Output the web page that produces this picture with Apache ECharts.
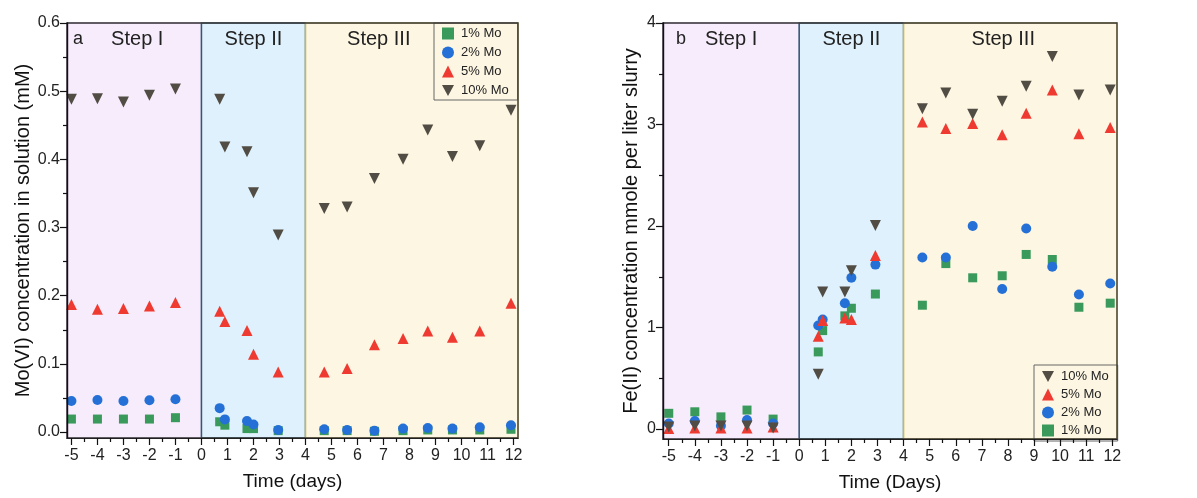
<!DOCTYPE html>
<html>
<head>
<meta charset="utf-8">
<script src="https://cdn.jsdelivr.net/npm/echarts@6/dist/echarts.min.js"></script>
<style>
html,body{margin:0;padding:0;background:#fff;}
#c{width:1197px;height:498px;}
</style>
</head>
<body>
<div id="c"></div>
<script>
// ---- Data ----
var seriesNames = ['1% Mo', '2% Mo', '5% Mo', '10% Mo'];
var stepNames = ['Step I', 'Step II', 'Step III'];
var stepBounds = [0, 4];
var xTicks = [-5,-4,-3,-2,-1,0,1,2,3,4,5,6,7,8,9,10,11,12];
var yTicksA = [0, 0.1, 0.2, 0.3, 0.4, 0.5, 0.6];
var yTicksB = [0, 1, 2, 3, 4];

// Panel a: Mo(VI) concentration (mM)
var timeA = [-5,-4,-3,-2,-1, 0.7,0.9,1.75,2.0,2.95, 4.72,5.6,6.65,7.75,8.7,9.65,10.7,11.9];
var moA1  = [0.019,0.019,0.019,0.019,0.021, 0.015,0.010,0.005,0.005,0.002, 0.002,0.002,0.001,0.002,0.003,0.003,0.003,0.004];
var moA2  = [0.0455,0.047,0.0455,0.0465,0.048, 0.035,0.0185,0.016,0.011,0.003, 0.004,0.003,0.002,0.005,0.006,0.005,0.007,0.010];
var moA5  = [0.187,0.180,0.181,0.185,0.190, 0.177,0.162,0.149,0.114,0.088, 0.088,0.093,0.128,0.137,0.148,0.139,0.148,0.189];
var moA10 = [0.488,0.489,0.484,0.494,0.503, 0.488,0.418,0.411,0.351,0.289, 0.328,0.330,0.372,0.400,0.443,0.404,0.420,0.472];

// Panel b: Fe(II) concentration (mmole per liter slurry)
var timeB = [-5,-4,-3,-2,-1, 0.73,0.9,1.75,2.0,2.92, 4.72,5.62,6.65,7.78,8.7,9.7,10.72,11.92];
var feB1  = [0.155,0.17,0.12,0.187,0.098, 0.76,0.97,1.115,1.19,1.33, 1.22,1.63,1.49,1.51,1.72,1.67,1.20,1.24];
var feB2  = [0.055,0.079,0.033,0.089,0.055, 1.02,1.08,1.24,1.49,1.62, 1.69,1.69,2.0,1.38,1.975,1.60,1.326,1.434];
var feB5  = [0.005,0.01,0.01,0.01,0.02, 0.915,1.07,1.095,1.08,1.71, 3.025,2.96,3.01,2.90,3.11,3.34,2.91,2.97];
var feB10 = [0.02,0.03,0.03,0.03,0.01, 0.54,1.35,1.35,1.56,2.005, 3.156,3.31,3.10,3.23,3.376,3.67,3.29,3.34];

// ---- Styles ----
var FONT = 'Liberation Sans, Arial, sans-serif';
var colors = ['#3a9a5c', '#2470d6', '#ef3a31', '#524d44'];
var symbols = ['rect', 'circle', 'triangle', 'triangle'];
var rotates = [0, 0, 0, 180];
var sizes = [9, 10, 11, 11];
var legendIcons = ['rect', 'circle', 'triangle', 'path://M0,0L10,0L5,9Z'];
var stepFill = ['#f6ecfb', '#dff1fc', '#fdf6e2'];
var stepBorder = ['#c9acdc', '#2f5b74', '#c6b75a'];

function zip(xs, ys) { return xs.map(function (x, i) { return [x, ys[i]]; }); }
function halfTicks() { var r = []; for (var v = -4.5; v < 12; v += 1) r.push(v); return r; }

function makeAxesX(gridIndex, min, max, name) {
  return [{
    type: 'value', gridIndex: gridIndex, min: min, max: max, position: 'bottom', z: 10,
    name: name, nameLocation: 'middle', nameGap: 34,
    nameTextStyle: { fontFamily: FONT, fontSize: 19, color: '#111' },
    axisLine: { show: true, onZero: false, lineStyle: { color: '#222', width: 1.2 } },
    axisTick: { show: true, customValues: xTicks, length: 7, lineStyle: { color: '#111', width: 1.2 } },
    axisLabel: { show: true, customValues: xTicks, fontFamily: FONT, fontSize: 16, color: '#222', margin: 10 },
    splitLine: { show: false }
  }, {
    type: 'value', gridIndex: gridIndex, min: min, max: max, position: 'bottom', z: 10,
    axisLine: { show: false, onZero: false },
    axisTick: { show: true, customValues: halfTicks(), length: 4, lineStyle: { color: '#111', width: 1.2 } },
    axisLabel: { show: false },
    splitLine: { show: false }
  }];
}

function makeAxesY(gridIndex, min, max, ticks, minor, name, gap, decimals) {
  return [{
    type: 'value', gridIndex: gridIndex, min: min, max: max, position: 'left', z: 10,
    name: name, nameLocation: 'middle', nameGap: gap,
    nameTextStyle: { fontFamily: FONT, fontSize: 20, color: '#111' },
    axisLine: { show: true, onZero: false, lineStyle: { color: '#111', width: 1.4 } },
    axisTick: { show: true, customValues: ticks, length: 7, lineStyle: { color: '#111', width: 1.2 } },
    axisLabel: { show: true, customValues: ticks, fontFamily: FONT, fontSize: 16, color: '#222', margin: 7,
      formatter: function (v) { return v.toFixed(decimals); } },
    splitLine: { show: false }
  }, {
    type: 'value', gridIndex: gridIndex, min: min, max: max, position: 'left', z: 10,
    axisLine: { show: false, onZero: false },
    axisTick: { show: true, customValues: minor, length: 4, lineStyle: { color: '#111', width: 1.2 } },
    axisLabel: { show: false },
    splitLine: { show: false }
  }];
}

function stepAreas(xmin, xmax, ymin, ymax, offsets) {
  var edges = [xmin, stepBounds[0], stepBounds[1], xmax];
  return stepNames.map(function (nm, i) {
    return [{
      name: nm, xAxis: edges[i], yAxis: ymin,
      itemStyle: { color: stepFill[i], borderColor: stepBorder[i], borderWidth: 1.5 },
      label: { show: true, position: 'insideTop', distance: 7, offset: [offsets[i], 0],
        fontFamily: FONT, fontSize: 20, color: '#222' }
    }, { xAxis: edges[i + 1], yAxis: ymax }];
  });
}

function makeSeries(xIdx, yIdx, xs, ysList, areas) {
  return seriesNames.map(function (nm, i) {
    var s = {
      name: nm, type: 'scatter', xAxisIndex: xIdx, yAxisIndex: yIdx,
      data: zip(xs, ysList[i]),
      symbol: symbols[i], symbolSize: sizes[i], symbolRotate: rotates[i],
      itemStyle: { color: colors[i], opacity: 1 },
      z: 3 + i
    };
    if (i === 0) {
      s.markArea = { silent: true, z: 1, data: areas };
    }
    return s;
  });
}

function legendData(order) {
  return order.map(function (i) { return { name: seriesNames[i], icon: legendIcons[i] }; });
}

var xMinA = -5.17, xMaxA = 12.17, xMinB = -5.22, xMaxB = 12.18;
var yMinA = -0.0088, yMaxA = 0.6, yMinB = -0.098, yMaxB = 4;

var option = {
  backgroundColor: '#ffffff',
  animation: false,
  grid: [
    { left: 67, top: 23, width: 451, height: 415, show: true, z: 9, borderColor: '#3a3a3a', borderWidth: 1.3, backgroundColor: 'transparent' },
    { left: 663, top: 23, width: 454, height: 416, show: true, z: 9, borderColor: '#3a3a3a', borderWidth: 1.3, backgroundColor: 'transparent' }
  ],
  title: [
    { text: 'a', left: 73, top: 30, padding: 0, textStyle: { fontFamily: FONT, fontSize: 18, fontWeight: 'normal', color: '#222' } },
    { text: 'b', left: 676, top: 30, padding: 0, textStyle: { fontFamily: FONT, fontSize: 18, fontWeight: 'normal', color: '#222' } }
  ],
  legend: [
    { data: legendData([0, 1, 2, 3]), orient: 'vertical', left: 434, top: 23, itemGap: 6, itemWidth: 12, itemHeight: 12,
      padding: [4, 9, 3, 8], borderColor: '#666', borderWidth: 1, backgroundColor: 'transparent',
      textStyle: { fontFamily: FONT, fontSize: 13, color: '#222', padding: [0, 0, 0, 2] } },
    { data: legendData([3, 2, 1, 0]), orient: 'vertical', left: 1034, top: 365, itemGap: 5, itemWidth: 12, itemHeight: 12,
      padding: [5, 9, 4, 8], borderColor: '#666', borderWidth: 1, backgroundColor: 'transparent',
      textStyle: { fontFamily: FONT, fontSize: 13, color: '#222', padding: [0, 0, 0, 2] } }
  ],
  xAxis: makeAxesX(0, xMinA, xMaxA, 'Time (days)').concat(makeAxesX(1, xMinB, xMaxB, 'Time (Days)')),
  yAxis: makeAxesY(0, yMinA, yMaxA, yTicksA, [0.05,0.15,0.25,0.35,0.45,0.55], 'Mo(VI) concentration in solution (mM)', 34, 1)
    .concat(makeAxesY(1, yMinB, yMaxB, yTicksB, [0.5,1.5,2.5,3.5], 'Fe(II) concentration mmole per liter slurry', 22, 0)),
  series: makeSeries(0, 0, timeA, [moA1, moA2, moA5, moA10], stepAreas(xMinA, xMaxA, yMinA, yMaxA, [3, 0, -33]))
    .concat(makeSeries(2, 2, timeB, [feB1, feB2, feB5, feB10], stepAreas(xMinB, xMaxB, yMinB, yMaxB, [0, 0, -7])))
};

var chart = echarts.init(document.getElementById('c'), null, { renderer: 'canvas' });
chart.setOption(option);
</script>
</body>
</html>
